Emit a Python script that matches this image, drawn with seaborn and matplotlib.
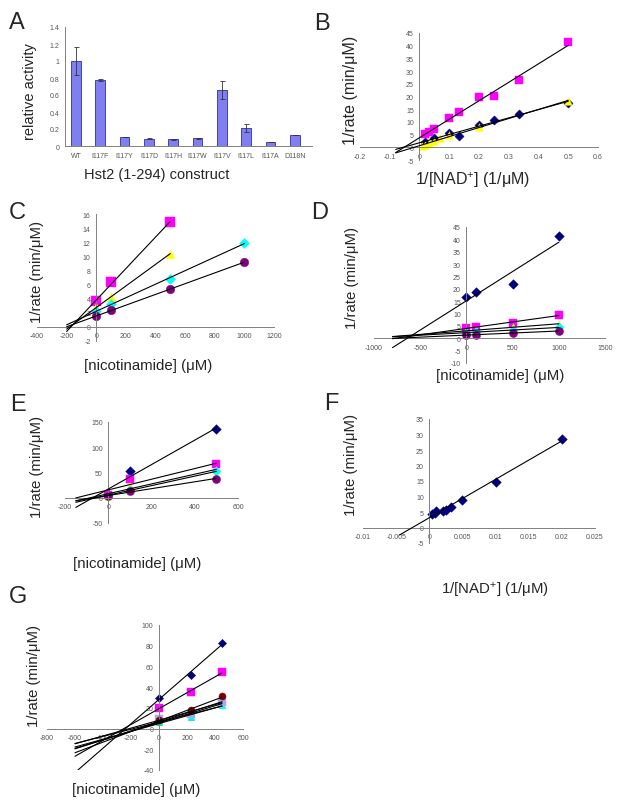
import numpy as np
import matplotlib
matplotlib.use("Agg")
import matplotlib.pyplot as plt
from matplotlib.ticker import FuncFormatter, FixedLocator
import seaborn as sns

# ---- data ----
# panel A: relative activity of Hst2 constructs
constructs = ["WT", "I117F", "I117Y", "I117D", "I117H", "I117W", "I117V", "I117L", "I117A", "D118N"]
activity = [1.0, 0.775, 0.11, 0.085, 0.08, 0.09, 0.66, 0.215, 0.045, 0.13]
activity_err = [0.16, 0.015, 0.0, 0.005, 0.005, 0.01, 0.11, 0.045, 0.003, 0.005]

# panel B: 1/rate vs 1/[NAD+]
b_navy_x = [0.02, 0.05, 0.1, 0.133, 0.2, 0.25, 0.333, 0.5]
b_navy_y = [2.0, 3.8, 5.8, 4.3, 8.8, 10.8, 13.0, 17.6]
b_mag_x = [0.02, 0.033, 0.05, 0.1, 0.133, 0.2, 0.25, 0.333, 0.5]
b_mag_y = [5.3, 6.2, 7.2, 11.5, 13.8, 19.9, 20.1, 26.3, 41.4]
b_yel_x = [0.01, 0.02, 0.033, 0.05, 0.07, 0.1, 0.2, 0.5]
b_yel_y = [0.5, 1.0, 1.8, 2.5, 3.5, 4.8, 7.8, 18.3]

# panel C: 1/rate vs [nicotinamide]
c_mag_x = [0, 100, 500]
c_mag_y = [3.6, 6.3, 14.9]
c_yel_x = [0, 100, 500]
c_yel_y = [2.8, 4.2, 10.4]
c_cyan_x = [0, 100, 500, 1000]
c_cyan_y = [2.2, 3.3, 6.8, 11.9]
c_pur_x = [0, 100, 500, 1000]
c_pur_y = [1.5, 2.4, 5.3, 9.2]

# panel D
d_x = [0, 100, 500, 1000]
d_navy_y = [16.5, 18.8, 22.0, 41.2]
d_mag_y = [4.2, 4.5, 6.2, 9.4]
d_yel_y = [3.0, 3.2, 4.6, 5.8]
d_cyan_y = [2.3, 2.5, 3.3, 4.4]
d_pur_y = [1.3, 1.5, 2.0, 3.0]

# panel E
e_x = [0, 100, 500]
e_navy_y = [8, 53, 136]
e_mag_y = [6, 38, 66]
e_yel_y = [3, 24, 55]
e_cyan_y = [4, 16, 52]
e_pur_y = [3, 13, 38]

# panel F: 1/rate vs 1/[NAD+]
f_x = [0.0004, 0.0008, 0.001, 0.002, 0.0025, 0.0033, 0.005, 0.01, 0.02]
f_y = [4.2, 4.8, 5.3, 5.2, 5.8, 6.6, 9.0, 14.6, 28.6]

# panel G
g_x = [0, 225, 450]
g_navy_y = [29.5, 52, 82.5]
g_mag_y = [20, 35, 54.5]
g_maroon_y = [8, 17.5, 31]
g_lav_y = [9, 14.5, 26]
g_cyan_y = [7, 12.5, 22.5]
g_green_y = [6, 11, 23]
g_yel_y = [7.5, 14, 27]
g_pur_y = [6.5, 13, 25]

NAVY, MAG, YEL, CYAN, PUR = "#000080", "#FF00FF", "#FFFF00", "#00FFFF", "#800080"
MAROON, LAV, GREEN = "#800000", "#A8A8F0", "#00E060"

sns.set_style("white")
plt.rcParams["font.family"] = ["Liberation Sans", "DejaVu Sans"]
plt.rcParams["mathtext.default"] = "regular"

W, H = 624, 804
fig = plt.figure(figsize=(W / 100, H / 100), dpi=100)
fig.patch.set_facecolor("white")


def add_ax(x0, x1, y0, y1):
    return fig.add_axes([x0 / W, 1 - y1 / H, (x1 - x0) / W, (y1 - y0) / H])


def ftext(x, y, s, size=11, rot=0):
    fig.text(x / W, 1 - y / H, s, ha="center", va="center", rotation=rot, fontsize=size)


fmt = FuncFormatter(lambda v, p: f"{v:g}")


def style_xy(ax, xlim, ylim, xticks, yticks):
    ax.set_xlim(xlim)
    ax.set_ylim(ylim)
    ax.set_xticks(xticks)
    ax.set_yticks(yticks)
    ax.xaxis.set_major_formatter(fmt)
    ax.yaxis.set_major_formatter(fmt)
    ax.set_facecolor("none")
    for s in ["top", "right"]:
        ax.spines[s].set_visible(False)
    ax.spines["left"].set_position(("data", 0))
    ax.spines["bottom"].set_position(("data", 0))
    for s in ["left", "bottom"]:
        ax.spines[s].set_color("#808080")
        ax.spines[s].set_linewidth(0.7)
    ax.tick_params(direction="out", length=2.5, width=0.6, colors="#808080",
                   labelcolor="#555555", labelsize=5, pad=1.5)
    ax.set_xlabel("")
    ax.set_ylabel("")


def series(ax, x, y, color, marker, x0, s=28):
    sns.scatterplot(x=x, y=y, color=color, marker=marker, s=s, edgecolor=color,
                    linewidth=0.3, ax=ax, zorder=2, legend=False)
    k, b = np.polyfit(x, y, 1)
    xs = np.array([x0, max(x)])
    ax.plot(xs, k * xs + b, color="black", lw=0.8, zorder=3)


# ---- A ----
axA = add_ax(65, 312, 28, 147)
sns.barplot(x=constructs, y=activity, color="#7F7FEF", edgecolor="#2F2F9F",
            linewidth=0.6, width=0.4, saturation=1, ax=axA)
axA.errorbar(range(len(constructs)), activity, yerr=activity_err, fmt="none",
             ecolor="#333333", elinewidth=0.6, capsize=1.8, capthick=0.6)
axA.set_xlim(-0.45, 9.7)
axA.set_ylim(0, 1.4)
axA.set_yticks(np.arange(0, 1.41, 0.2))
axA.yaxis.set_major_formatter(fmt)
for s in ["top", "right"]:
    axA.spines[s].set_visible(False)
for s in ["left", "bottom"]:
    axA.spines[s].set_color("#808080")
    axA.spines[s].set_linewidth(0.7)
axA.tick_params(axis="y", direction="out", length=2.5, width=0.6, colors="#808080",
                labelcolor="#555555", labelsize=5, pad=1.5)
axA.tick_params(axis="x", length=0, labelcolor="#555555", labelsize=5, pad=4)
axA.xaxis.set_minor_locator(FixedLocator(np.arange(0.5, 9.6, 1)))
axA.tick_params(axis="x", which="minor", direction="out", length=2.5, width=0.6, colors="#808080")
axA.set_xlabel("")
axA.set_ylabel("")
ftext(30, 92, "relative activity", 10.5, 90)
ftext(157, 175, "Hst2 (1-294) construct", 10.5)

# ---- B ----
axB = add_ax(360, 598, 34, 161)
style_xy(axB, (-0.2, 0.6), (-5, 45), np.arange(-0.2, 0.61, 0.1), np.arange(-5, 46, 5))
series(axB, b_navy_x, b_navy_y, NAVY, "D", -0.08, 22)
series(axB, b_mag_x, b_mag_y, MAG, "s", -0.08, 40)
series(axB, b_yel_x, b_yel_y, YEL, "^", -0.08, 30)
ftext(351, 90, "1/rate (min/μM)", 11.5, 90)
ftext(473, 180, "1/[NAD$^{+}$] (1/μM)", 11.5)

# ---- C ----
axC = add_ax(37, 274, 215, 342)
style_xy(axC, (-400, 1200), (-2, 16), np.arange(-400, 1201, 200), np.arange(-2, 17, 2))
series(axC, c_mag_x, c_mag_y, MAG, "s", -200, 44)
series(axC, c_yel_x, c_yel_y, YEL, "^", -200, 38)
series(axC, c_cyan_x, c_cyan_y, CYAN, "D", -200, 26)
series(axC, c_pur_x, c_pur_y, PUR, "o", -200, 38)
ftext(37, 272, "1/rate (min/μM)", 10.8, 90)
ftext(148, 366, "[nicotinamide] (μM)", 10.8)

# ---- D ----
axD = add_ax(374, 605, 228, 364)
style_xy(axD, (-1000, 1500), (-10, 45), np.arange(-1000, 1501, 500), np.arange(-10, 46, 5))
series(axD, d_x, d_navy_y, NAVY, "D", -800, 24)
series(axD, d_x, d_mag_y, MAG, "s", -800, 40)
series(axD, d_x, d_yel_y, YEL, "^", -800, 30)
series(axD, d_x, d_cyan_y, CYAN, "D", -800, 22)
series(axD, d_x, d_pur_y, PUR, "o", -800, 34)
ftext(352, 278, "1/rate (min/μM)", 10.8, 90)
ftext(500, 376, "[nicotinamide] (μM)", 10.8)

# ---- E ----
axE = add_ax(65, 238, 423, 524)
style_xy(axE, (-200, 600), (-50, 150), np.arange(-200, 601, 200), np.arange(-50, 151, 50))
series(axE, e_x, e_navy_y, NAVY, "D", -150, 24)
series(axE, e_x, e_mag_y, MAG, "s", -150, 40)
series(axE, e_x, e_yel_y, YEL, "^", -150, 30)
series(axE, e_x, e_cyan_y, CYAN, "D", -150, 22)
series(axE, e_x, e_pur_y, PUR, "o", -150, 34)
ftext(37, 467, "1/rate (min/μM)", 10.8, 90)
ftext(137, 564, "[nicotinamide] (μM)", 10.8)

# ---- F ----
axF = add_ax(363, 595, 420, 544)
style_xy(axF, (-0.01, 0.025), (-5, 35), np.arange(-0.01, 0.0251, 0.005), np.arange(-5, 36, 5))
series(axF, f_x, f_y, NAVY, "D", -0.0045, 24)
ftext(351, 465, "1/rate (min/μM)", 10.8, 90)
ftext(495, 591, "1/[NAD$^{+}$] (1/μM)", 10.8)

# ---- G ----
axG = add_ax(47, 243, 626, 771)
style_xy(axG, (-800, 600), (-40, 100), np.arange(-800, 601, 200), np.arange(-40, 101, 20))
series(axG, g_x, g_yel_y, YEL, "^", -600, 18)
series(axG, g_x, g_pur_y, PUR, "o", -600, 18)
series(axG, g_x, g_green_y, GREEN, "^", -600, 20)
series(axG, g_x, g_cyan_y, CYAN, "^", -600, 20)
series(axG, g_x, g_lav_y, LAV, "s", -600, 26)
series(axG, g_x, g_maroon_y, MAROON, "o", -600, 26)
series(axG, g_x, g_mag_y, MAG, "s", -600, 30)
series(axG, g_x, g_navy_y, NAVY, "D", -600, 18)
ftext(34, 676, "1/rate (min/μM)", 10.8, 90)
ftext(136, 790, "[nicotinamide] (μM)", 10.8)

# panel letters
for lab, x, y in [("A", 17, 23), ("B", 322, 24), ("C", 17, 213), ("D", 320, 213),
                  ("E", 18, 405), ("F", 331, 404), ("G", 18, 597)]:
    ftext(x, y, lab, 17)

fig.savefig("out.png", dpi=100, facecolor="white")
